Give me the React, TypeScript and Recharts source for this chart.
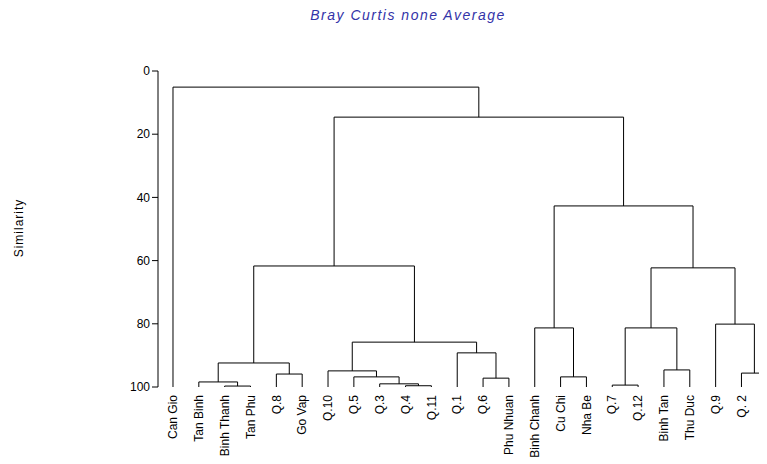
import React from "react";
import { ComposedChart, Line, XAxis, YAxis } from "recharts";

// Leaf labels, left to right
const leaves = [
  "Can Gio", "Tan Binh", "Binh Thanh", "Tan Phu", "Q.8", "Go Vap",
  "Q.10", "Q.5", "Q.3", "Q.4", "Q.11", "Q.1", "Q.6", "Phu Nhuan",
  "Binh Chanh", "Cu Chi", "Nha Be", "Q.7", "Q.12", "Binh Tan", "Thu Duc",
  "Q.9", "Q. 2", "Hoc Mon",
];

// Merges: node ids 0..23 are leaves, 24+k is the cluster formed by merge k
const mergeLeft = [2, 1, 4, 25, 9, 8, 7, 6, 12, 11, 31, 27, 15, 14, 17, 19, 38, 22, 21, 40, 37, 35, 0];
const mergeRight = [3, 24, 5, 26, 10, 28, 29, 30, 13, 32, 33, 34, 16, 36, 18, 20, 39, 23, 41, 42, 43, 44, 45];
const mergeHeight = [99.7, 98.4, 95.9, 92.4, 99.6, 99.0, 96.8, 94.9, 97.2, 89.2, 85.8, 61.7, 96.8, 81.3, 99.4, 94.6, 81.3, 95.6, 80.1, 62.3, 42.7, 14.6, 5.1];

const yTicks = [0, 20, 40, 60, 80, 100];
const leafTicks = leaves.map((_, i) => i);

const title = "Bray Curtis none Average";
const yTitle = "Similarity";

// Build the link polylines from the merge table
const nodeX: number[] = leaves.map((_, i) => i);
const nodeH: number[] = leaves.map(() => 100);
const links: { x: number; y: number }[][] = [];
mergeHeight.forEach((h, k) => {
  const l = mergeLeft[k];
  const r = mergeRight[k];
  links.push([
    { x: nodeX[l], y: nodeH[l] },
    { x: nodeX[l], y: h },
    { x: nodeX[r], y: h },
    { x: nodeX[r], y: nodeH[r] },
  ]);
  nodeX.push((nodeX[l] + nodeX[r]) / 2);
  nodeH.push(h);
});

const FONT = "'Liberation Sans', Arial, sans-serif";

const LeafTick = (props: any) => {
  const { x, y, payload } = props;
  return (
    <text
      transform={`translate(${x},${y}) rotate(-90)`}
      textAnchor="end"
      dy="0.35em"
      fontSize={12}
      fontFamily={FONT}
      fill="#000"
    >
      {leaves[payload.value]}
    </text>
  );
};

const SimLabel = (props: any) => {
  const vb = props.viewBox || { y: 63, height: 316 };
  const cy = vb.y + vb.height / 2 - 1;
  return (
    <text
      transform={`translate(11,${cy}) rotate(-90)`}
      textAnchor="middle"
      dy="0.35em"
      fontSize={12}
      fontFamily={FONT}
      letterSpacing={1}
      fill="#000"
    >
      {yTitle}
    </text>
  );
};

export default function App() {
  return (
    <div style={{ position: "relative", width: 759, height: 456, overflow: "hidden", fontFamily: FONT }}>
      <div
        style={{
          position: "absolute",
          left: 0,
          top: -1,
          width: 800,
          textAlign: "center",
          fontStyle: "italic",
          fontSize: 14,
          letterSpacing: 1.5,
          color: "#3333a8",
          lineHeight: "16px",
        }}
      >
        {title}
      </div>
      <ComposedChart
        width={796}
        height={456}
        margin={{ top: 63, right: 0, bottom: 0, left: 100 }}
      >
        <XAxis
          type="number"
          dataKey="x"
          domain={[-0.58, 24.42]}
          allowDataOverflow
          ticks={leafTicks}
          interval={0}
          axisLine={false}
          tickLine={false}
          height={77}
          tick={<LeafTick />}
        />
        <YAxis
          type="number"
          dataKey="y"
          domain={[0, 100]}
          reversed
          allowDataOverflow
          ticks={yTicks}
          interval={0}
          width={50}
          axisLine={{ stroke: "#000" }}
          tickLine={{ stroke: "#000" }}
          tickSize={6}
          tick={{ fill: "#000", fontSize: 12, fontFamily: FONT }}
          label={{ content: <SimLabel /> }}
        />
        {links.map((pts, i) => (
          <Line
            key={i}
            data={pts}
            dataKey="y"
            type="linear"
            stroke="#000"
            strokeWidth={1}
            dot={false}
            activeDot={false}
            isAnimationActive={false}
          />
        ))}
      </ComposedChart>
    </div>
  );
}
